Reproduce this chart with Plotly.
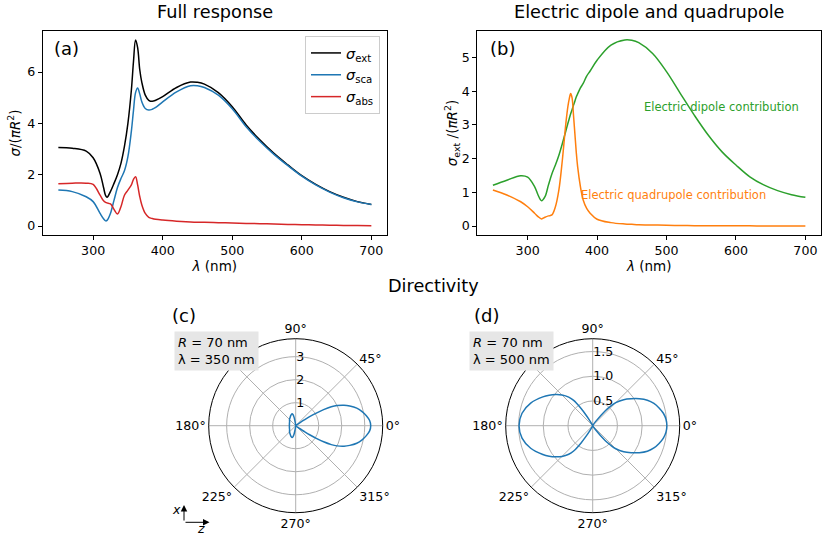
import plotly.graph_objects as go

W, H = 822, 537

# ---------------- Panel (a): full response ----------------
lam_a = [250, 270, 290, 300, 310, 315, 318, 320, 325, 330, 335, 340, 345, 350, 355, 358,
         361, 364, 367, 370, 375, 380, 385, 390, 400, 420, 440, 450, 460, 480, 500, 520,
         540, 560, 580, 600, 620, 640, 660, 680, 700]
sig_ext = [3.06, 3.03, 2.92, 2.66, 2.05, 1.5, 1.18, 1.12, 1.35, 1.66, 2.0, 2.44, 3.1, 4.0,
           5.3, 6.4, 7.25, 6.95, 6.1, 5.6, 5.1, 4.9, 4.86, 4.9, 5.04, 5.4, 5.61, 5.6, 5.53,
           5.2, 4.65, 3.94, 3.35, 2.83, 2.38, 1.96, 1.62, 1.34, 1.12, 0.95, 0.84]
sig_sca = [1.40, 1.34, 1.14, 0.95, 0.49, 0.28, 0.2, 0.22, 0.5, 1.0, 1.5, 1.85, 2.15, 2.7,
           3.7, 4.5, 5.2, 5.38, 5.15, 4.84, 4.58, 4.52, 4.55, 4.62, 4.84, 5.23, 5.47, 5.47,
           5.4, 5.1, 4.57, 3.87, 3.29, 2.79, 2.35, 1.94, 1.6, 1.32, 1.1, 0.94, 0.84]
sig_abs = [1.65, 1.67, 1.67, 1.62, 1.2, 0.98, 0.92, 0.9, 0.86, 0.65, 0.47, 0.75, 1.2, 1.4,
           1.6, 1.82, 1.92, 1.6, 1.15, 0.82, 0.49, 0.34, 0.29, 0.26, 0.23, 0.19, 0.16, 0.15,
           0.145, 0.13, 0.115, 0.1, 0.09, 0.075, 0.06, 0.05, 0.04, 0.03, 0.02, 0.015, 0.01]

# ---------------- Panel (b): electric dipole / quadrupole ----------------
lam_b = [250, 270, 290, 300, 310, 315, 320, 325, 330, 335, 340, 345, 350, 355, 358, 360,
         362, 364, 366, 368, 370, 372, 376, 380, 385, 390, 400, 420, 440, 450, 460, 480,
         500, 520, 540, 560, 580, 600, 620, 640, 660, 680, 700]
ed = [1.21, 1.36, 1.49, 1.45, 1.17, 0.92, 0.75, 0.87, 1.22, 1.55, 1.81, 2.1, 2.45, 2.82,
      3.05, 3.19, 3.33, 3.45, 3.58, 3.7, 3.83, 3.92, 4.1, 4.23, 4.45, 4.6, 4.92, 5.37, 5.52,
      5.51, 5.44, 5.12, 4.58, 3.93, 3.29, 2.70, 2.2, 1.81, 1.46, 1.22, 1.05, 0.93, 0.85]
eq = [1.07, 0.92, 0.72, 0.57, 0.38, 0.28, 0.21, 0.26, 0.3, 0.33, 0.57, 1.07, 1.96, 3.04,
      3.55, 3.78, 3.93, 3.8, 3.3, 2.75, 2.2, 1.76, 1.17, 0.77, 0.52, 0.38, 0.2, 0.1, 0.06,
      0.05, 0.04, 0.03, 0.02, 0.015, 0.01, 0.008, 0.006, 0.005, 0.004, 0.003, 0.002, 0.001, 0.0]

# ---------------- Panels (c), (d): directivity (0..180 deg, mirror-symmetric) ----------------
th_c = [0, 4, 8, 12, 16, 20, 23, 26, 28, 30, 31.5, 33, 34, 35, 37, 40, 50, 70, 90, 96, 99,
        101, 104, 107, 115, 123, 135, 146, 160, 180]
r_c = [3.26, 3.22, 3.1, 2.95, 2.76, 2.5, 2.28, 2.0, 1.75, 1.4, 1.05, 0.72, 0.45, 0.25, 0.1,
       0.04, 0.02, 0.01, 0.01, 0.05, 0.2, 0.38, 0.5, 0.54, 0.5, 0.44, 0.38, 0.32, 0.29, 0.274]
th_d = [0, 5, 10, 15, 20, 25, 30, 35, 40, 45, 47.5, 50, 55, 60, 70, 90, 110, 117, 120, 122,
        124, 127, 130, 135, 140, 145, 150, 160, 170, 180]
r_d = [1.50, 1.488, 1.452, 1.39, 1.318, 1.22, 1.09, 0.95, 0.82, 0.66, 0.53, 0.39, 0.1, 0.02,
       0.0, 0.0, 0.0, 0.04, 0.12, 0.25, 0.42, 0.64, 0.755, 0.88, 0.98, 1.075, 1.165, 1.335,
       1.452, 1.49]

angle_ticks = [0, 45, 90, 135, 180, 225, 270, 315]
# the 135 deg label is hidden behind the info box in the reference
angle_labels = ["0°", "45°", "90°", "", "180°", "225°", "270°", "315°"]


def full_circle(th, r):
    t = list(th) + [360 - v for v in reversed(th[:-1])]
    rr = list(r) + list(reversed(r[:-1]))
    return t, rr


tc, rc = full_circle(th_c, r_c)
td, rd = full_circle(th_d, r_d)

FONT = "DejaVu Sans"
TICK = 12.6
BLUE, RED, GREEN, ORANGE = "#1f77b4", "#d62728", "#2ca02c", "#ff7f0e"
SM = 1.0

fig = go.Figure()
fig.add_trace(go.Scatter(x=lam_a, y=sig_ext, mode="lines", name="<i>σ</i><sub>ext</sub>",
                         line=dict(color="black", width=1.5, shape="spline", smoothing=SM),
                         xaxis="x", yaxis="y"))
fig.add_trace(go.Scatter(x=lam_a, y=sig_sca, mode="lines", name="<i>σ</i><sub>sca</sub>",
                         line=dict(color=BLUE, width=1.5, shape="spline", smoothing=SM),
                         xaxis="x", yaxis="y"))
fig.add_trace(go.Scatter(x=lam_a, y=sig_abs, mode="lines", name="<i>σ</i><sub>abs</sub>",
                         line=dict(color=RED, width=1.5, shape="spline", smoothing=SM),
                         xaxis="x", yaxis="y"))
fig.add_trace(go.Scatter(x=lam_b, y=ed, mode="lines", showlegend=False,
                         line=dict(color=GREEN, width=1.5, shape="spline", smoothing=SM),
                         xaxis="x2", yaxis="y2"))
fig.add_trace(go.Scatter(x=lam_b, y=eq, mode="lines", showlegend=False,
                         line=dict(color=ORANGE, width=1.5, shape="spline", smoothing=SM),
                         xaxis="x2", yaxis="y2"))
fig.add_trace(go.Scatterpolar(theta=tc, r=rc, mode="lines", showlegend=False,
                              line=dict(color=BLUE, width=1.5, shape="spline", smoothing=0.8),
                              subplot="polar"))
fig.add_trace(go.Scatterpolar(theta=td, r=rd, mode="lines", showlegend=False,
                              line=dict(color=BLUE, width=1.5, shape="spline", smoothing=1.0),
                              subplot="polar2"))


def px(x):
    return x / W


def py(y):
    return 1 - y / H


axis_common = dict(showline=True, mirror=True, linecolor="black", linewidth=1,
                   ticks="outside", ticklen=4, tickcolor="black", showgrid=False,
                   zeroline=False, automargin=False,
                   tickfont=dict(family=FONT, size=TICK, color="black"))

fig.update_layout(
    width=W, height=H, margin=dict(l=0, r=0, t=0, b=0),
    paper_bgcolor="white", plot_bgcolor="white",
    font=dict(family=FONT, size=TICK, color="black"),
    xaxis=dict(domain=[px(42.7), px(387)], range=[227.5, 722.5],
               tickvals=[300, 400, 500, 600, 700],
               title=dict(text="<i>λ</i> (nm)", font=dict(size=13.5), standoff=3),
               anchor="y", **axis_common),
    yaxis=dict(domain=[py(235.3), py(30.7)], range=[-0.3625, 7.6125],
               tickvals=[0, 2, 4, 6],
               title=dict(text="<i>σ</i>/(<i>πR</i><sup>2</sup>)", font=dict(size=13.5), standoff=3),
               anchor="x", **axis_common),
    xaxis2=dict(domain=[px(477.3), px(821)], range=[227.5, 722.5],
                tickvals=[300, 400, 500, 600, 700],
                title=dict(text="<i>λ</i> (nm)", font=dict(size=13.5), standoff=3),
                anchor="y2", **axis_common),
    yaxis2=dict(domain=[py(235.3), py(30.7)], range=[-0.276, 5.796],
                tickvals=[0, 1, 2, 3, 4, 5],
                title=dict(text="<i>σ</i><sub>ext</sub> /(<i>πR</i><sup>2</sup>)",
                           font=dict(size=13.5), standoff=0),
                anchor="x2", **axis_common),
    legend=dict(x=px(380), xanchor="right", y=py(36), yanchor="top",
                bgcolor="rgba(255,255,255,0.85)", bordercolor="#cccccc", borderwidth=1,
                font=dict(family=FONT, size=14.5), itemwidth=30, tracegroupgap=0),
)

polar_common = dict(
    bgcolor="white",
    angularaxis=dict(tickvals=angle_ticks, ticktext=angle_labels,
                     direction="counterclockwise", rotation=0, showline=True,
                     linecolor="black", linewidth=1, gridcolor="#b0b0b0", gridwidth=0.8,
                     ticks="", tickfont=dict(family=FONT, size=TICK, color="black")),
)
fig.update_layout(
    polar=dict(domain=dict(x=[px(208.7), px(382.7)], y=[py(512.7), py(338.7)]),
               radialaxis=dict(range=[0, 3.78], tickvals=[1, 2, 3], angle=90, tickangle=90,
                               showline=False, ticks="", gridcolor="#b0b0b0", gridwidth=0.8,
                               tickfont=dict(family=FONT, size=TICK, color="black")),
               **polar_common),
    polar2=dict(domain=dict(x=[px(505.7), px(679.7)], y=[py(512.7), py(338.7)]),
                radialaxis=dict(range=[0, 1.76], tickvals=[0.5, 1.0, 1.5], ticktext=["0.5", "1.0", "1.5"],
                                angle=90, tickangle=90, showline=False, ticks="",
                                gridcolor="#b0b0b0", gridwidth=0.8,
                                tickfont=dict(family=FONT, size=TICK, color="black")),
                **polar_common),
)

ann = []


def text(x, y, s, size, color="black", xanchor="center", yanchor="middle", **kw):
    ann.append(dict(x=px(x), y=py(y), xref="paper", yref="paper", text=s, showarrow=False,
                    xanchor=xanchor, yanchor=yanchor,
                    font=dict(family=FONT, size=size, color=color), **kw))


text(214.5, 12, "Full response", 17.7)
text(649.5, 12, "Electric dipole and quadrupole", 17.7)
text(433, 286, "Directivity", 17.7)
text(52, 48, "(a)", 18, xanchor="left")
text(487.5, 48, "(b)", 18, xanchor="left")
text(183.5, 315, "(c)", 18)
text(486.5, 315, "(d)", 18)
text(641.5, 107, "Electric dipole contribution", 11.5, color=GREEN, xanchor="left")
text(578.5, 195, "Electric quadrupole contribution", 11.5, color=ORANGE, xanchor="left")
text(173.5, 350.5, "<i>R</i> = 70 nm<br>λ = 350 nm", 13, xanchor="left", align="left",
     bgcolor="#e6e6e6", borderpad=3)
text(468.5, 350.5, "<i>R</i> = 70 nm<br>λ = 500 nm", 13, xanchor="left", align="left",
     bgcolor="#e6e6e6", borderpad=3)
text(176, 509, "<i>x</i>", 12.5)
text(200.5, 528, "<i>z</i>", 12.5)

# coordinate arrows
ann.append(dict(x=px(184), y=py(505), xref="paper", yref="paper", ax=0, ay=17,
                axref="pixel", ayref="pixel", text="", showarrow=True, arrowhead=2,
                arrowsize=1.3, arrowwidth=1, arrowcolor="black"))
ann.append(dict(x=px(209.5), y=py(522.3), xref="paper", yref="paper", ax=-25.5, ay=0,
                axref="pixel", ayref="pixel", text="", showarrow=True, arrowhead=2,
                arrowsize=1.3, arrowwidth=1, arrowcolor="black"))

fig.update_layout(annotations=ann)
fig.write_html("out.html")
